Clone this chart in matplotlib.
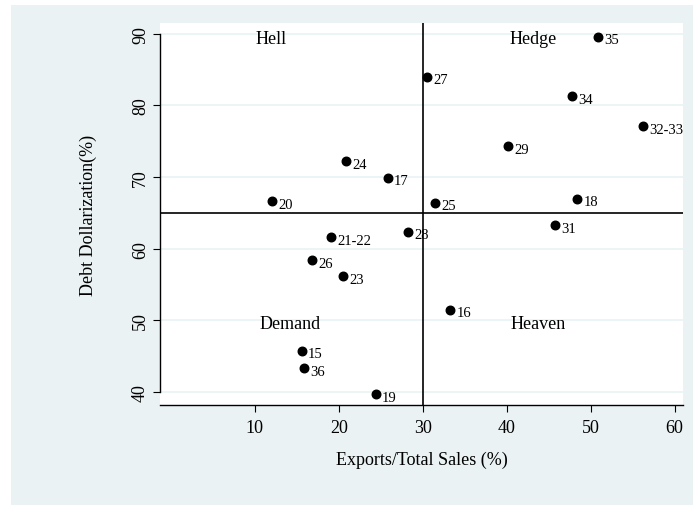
import matplotlib
matplotlib.use("Agg")
import matplotlib.pyplot as plt
from matplotlib.patches import Rectangle

# --- DATA ---
exports = [50.9, 30.5, 47.8, 56.2, 40.2, 20.9, 25.8, 31.5, 48.4, 45.7,
           28.3, 12.1, 19.1, 16.8, 20.5, 33.3, 15.6, 15.9, 24.4]
dollarization = [89.6, 84.0, 81.3, 77.1, 74.3, 72.2, 69.9, 66.4, 67.0, 63.3,
                 62.4, 66.6, 61.6, 58.4, 56.2, 51.5, 45.8, 43.3, 39.7]
point_labels = ["35", "27", "34", "32-33", "29", "24", "17", "25", "18", "31",
                "28", "20", "21-22", "26", "23", "16", "15", "36", "19"]

quadrant_names = ["Hell", "Hedge", "Demand", "Heaven"]
quadrant_x = [11.9, 43.2, 14.2, 43.7]
quadrant_y = [89.4, 89.4, 49.6, 49.6]

x_cut = 30
y_cut = 65
x_ticks = [10, 20, 30, 40, 50, 60]
y_ticks = [40, 50, 60, 70, 80, 90]

bg = "#EAF2F3"
plt.rcParams["font.family"] = ["Liberation Serif", "DejaVu Serif"]

fig = plt.figure(figsize=(6.93, 5.06), dpi=100, facecolor="white")
fig.add_artist(Rectangle((11 / 693, 0), 1, 500 / 506, transform=fig.transFigure,
                         facecolor=bg, edgecolor="none", zorder=-10))

ax = fig.add_axes([160 / 693, 100 / 506, 523 / 693, 382 / 506])
ax.set_facecolor("white")
ax.set_xlim(-1.3, 61.0)
ax.set_ylim(38.2, 91.5)

ax.set_xticks(x_ticks)
ax.set_yticks(y_ticks)
ax.yaxis.grid(True, color=bg, linewidth=1.2)
ax.set_axisbelow(True)

for s in ["top", "right"]:
    ax.spines[s].set_visible(False)
ax.spines["left"].set_bounds(40, 90)
ax.spines["left"].set_linewidth(1.0)
ax.spines["bottom"].set_linewidth(1.0)

ax.tick_params(axis="both", direction="out", length=5, width=0.8, labelsize=13)
ax.tick_params(axis="x", pad=5)
ax.tick_params(axis="y", pad=3, labelrotation=90)
for lab in ax.get_yticklabels():
    lab.set_va("center")

# quadrant lines
ax.axhline(y_cut, color="black", linewidth=1.2, zorder=2)
ax.axvline(x_cut, color="black", linewidth=1.2, zorder=2)

ax.scatter(exports, dollarization, s=38, color="black", zorder=3)
for x, y, t in zip(exports, dollarization, point_labels):
    ax.annotate(t, (x, y), xytext=(4.5, -2.2), textcoords="offset points",
                ha="left", va="center", fontsize=10.5, zorder=4)

for name, qx, qy in zip(quadrant_names, quadrant_x, quadrant_y):
    ax.text(qx, qy, name, ha="center", va="center", fontsize=13)

ax.set_xlabel("Exports/Total Sales (%)", fontsize=13, labelpad=11)
ax.set_ylabel("Debt Dollarization(%)", fontsize=13, labelpad=25)

fig.savefig("out.png", dpi=100, facecolor=fig.get_facecolor())
